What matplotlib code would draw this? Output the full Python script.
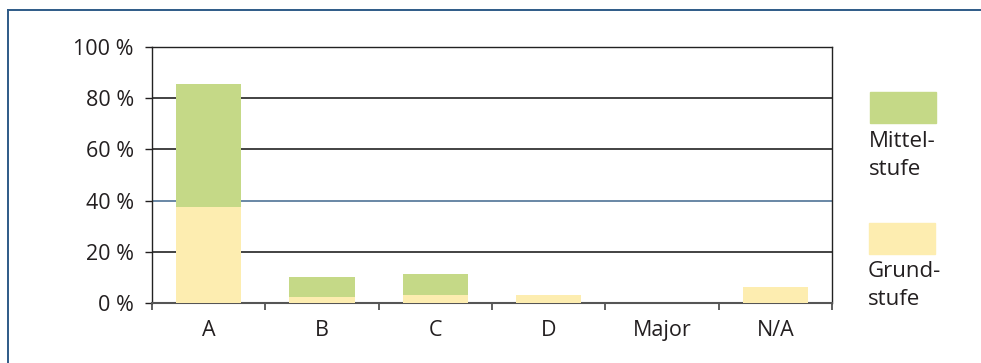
import matplotlib.pyplot as plt
from matplotlib.patches import Rectangle
from matplotlib.lines import Line2D

categories = ['A', 'B', 'C', 'D', 'Major', 'N/A']
grundstufe = [37.5, 2.3, 3.1, 3.1, 0.0, 6.3]
mittelstufe = [48.0, 7.9, 8.2, 0.0, 0.0, 0.0]

green = '#c5d987'
yellow = '#fdedb0'
frame_blue = '#2e5a87'
txt = '#231f20'

plt.rcParams['font.family'] = ['Open Sans', 'DejaVu Sans']

fig = plt.figure(figsize=(9.81, 3.63), dpi=100)
W, H = 981, 363
ax = fig.add_axes([152 / W, (H - 303) / H, 680 / W, 256 / H])

x = list(range(len(categories)))
ax.bar(x, grundstufe, width=0.575, color=yellow, zorder=3)
ax.bar(x, mittelstufe, width=0.575, bottom=grundstufe, color=green, zorder=3)

ax.set_xlim(-0.5, len(categories) - 0.5)
ax.set_ylim(0, 100)
ax.set_yticks(range(0, 101, 20))
ax.set_yticklabels([f'{v} %' for v in range(0, 101, 20)])
ax.set_xticks(x)
ax.set_xticklabels(categories)
ax.set_xticks([i - 0.5 for i in range(len(categories) + 1)], minor=True)
ax.tick_params(axis='x', which='major', length=0, pad=12, labelsize=15.5, colors=txt)
ax.tick_params(axis='x', which='minor', length=5, width=1.2, color='#444444')
ax.tick_params(axis='y', length=5, width=1.0, pad=8, labelsize=15.5, colors=txt)

for v in range(20, 100, 20):
    c = '#4f7396' if v == 40 else '#222222'
    ax.axhline(v, color=c, lw=1.2, zorder=1)
for s in ax.spines.values():
    s.set_color('#222222')
    s.set_linewidth(1.0)
ax.spines['bottom'].set_color('#555555')
ax.spines['bottom'].set_linewidth(1.5)

# legend drawn beside the plot
def fx(px):
    return px / W

def fy(py):
    return 1 - py / H

fig.patches.append(Rectangle((fx(870), fy(123)), 66 / W, 31 / H, transform=fig.transFigure,
                             color=green, figure=fig))
fig.text(fx(869), fy(131), 'Mittel-\nstufe', ha='left', va='top', fontsize=16,
         color=txt, linespacing=1.45)
fig.patches.append(Rectangle((fx(869), fy(254)), 66 / W, 31 / H, transform=fig.transFigure,
                             color=yellow, figure=fig))
fig.text(fx(868), fy(261), 'Grund-\nstufe', ha='left', va='top', fontsize=16,
         color=txt, linespacing=1.45)

# outer frame
fig.add_artist(Line2D([fx(8), 1.0], [fy(10), fy(10)], transform=fig.transFigure,
                      color=frame_blue, lw=1.4))
fig.add_artist(Line2D([fx(8), fx(8)], [fy(10), 0.0], transform=fig.transFigure,
                      color=frame_blue, lw=1.4))

fig.savefig('out.png', dpi=100)
